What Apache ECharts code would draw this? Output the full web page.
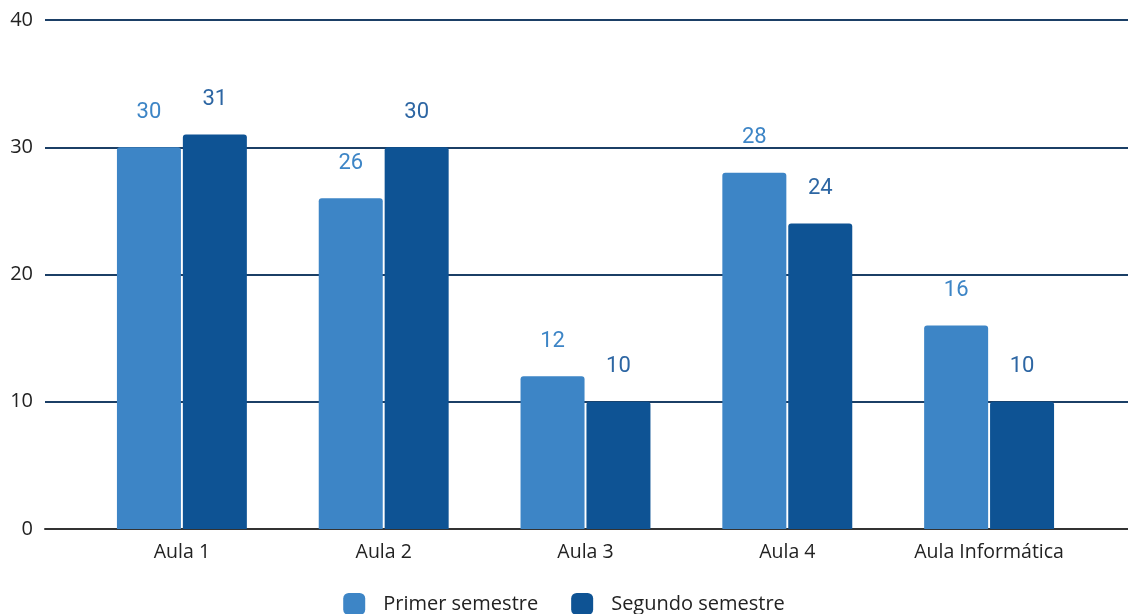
<!DOCTYPE html>
<html>
<head>
<meta charset="utf-8">
<script src="https://cdn.jsdelivr.net/npm/echarts@6/dist/echarts.min.js"></script>
<style>
html,body{margin:0;padding:0;background:#fff;}
#chart{width:1128px;height:614px;}
</style>
</head>
<body>
<div id="chart"></div>
<script>
const categories = ['Aula 1', 'Aula 2', 'Aula 3', 'Aula 4', 'Aula Informática'];
const primerSemestre = [30, 26, 12, 28, 16];
const segundoSemestre = [31, 30, 10, 24, 10];
const yTicks = [0, 10, 20, 30, 40];

const chart = echarts.init(document.getElementById('chart'), null, {renderer: 'canvas'});
const labelFont = 'Roboto, "Open Sans", sans-serif';
const axisFont = '"Open Sans", "DejaVu Sans", sans-serif';

chart.setOption({
  animation: false,
  backgroundColor: '#ffffff',
  grid: [
    {left: 45, right: 0, top: 20, bottom: 85, containLabel: false},
    {left: 81, right: 38, top: 20, bottom: 85, containLabel: false}
  ],
  xAxis: [
    {gridIndex: 0, type: 'category', data: categories,
     axisLine: {show: true, lineStyle: {color: '#333333', width: 2}},
     axisTick: {show: false}, axisLabel: {show: false}, splitLine: {show: false}},
    {gridIndex: 1, type: 'category', data: categories,
     axisLine: {show: false}, axisTick: {show: false},
     axisLabel: {color: '#222222', fontSize: 19.5, fontFamily: axisFont, margin: 13}}
  ],
  yAxis: [
    {gridIndex: 0, type: 'value', min: yTicks[0], max: yTicks[yTicks.length - 1], interval: 10,
     axisLine: {show: false}, axisTick: {show: false},
     axisLabel: {color: '#222222', fontSize: 20, fontFamily: axisFont, margin: 12},
     splitLine: {show: true, lineStyle: {color: '#1b3f66', width: 2}}},
    {gridIndex: 1, type: 'value', min: 0, max: 40, interval: 10, show: false,
     splitLine: {show: false}}
  ],
  legend: {
    top: 588,
    left: 'center',
    icon: 'roundRect',
    itemWidth: 22,
    itemHeight: 22,
    itemGap: 33,
    textStyle: {color: '#222222', fontSize: 20, fontFamily: axisFont, padding: [0, 0, 0, 13]},
    data: ['Primer semestre', 'Segundo semestre']
  },
  series: [
    {name: 'Primer semestre', type: 'bar', xAxisIndex: 1, yAxisIndex: 1,
     data: primerSemestre, barWidth: 64, barGap: '3%',
     itemStyle: {color: '#3d85c6', borderRadius: [3, 3, 0, 0]},
     label: {show: true, position: 'top', distance: 24, color: '#3d85c6', fontSize: 22, fontWeight: 'normal', fontFamily: labelFont}},
    {name: 'Segundo semestre', type: 'bar', xAxisIndex: 1, yAxisIndex: 1,
     data: segundoSemestre, barWidth: 64, barGap: '3%',
     itemStyle: {color: '#0e5394', borderRadius: [3, 3, 0, 0]},
     label: {show: true, position: 'top', distance: 24, color: '#2d66a3', fontSize: 22, fontWeight: 'normal', fontFamily: labelFont}}
  ]
});
</script>
</body>
</html>
